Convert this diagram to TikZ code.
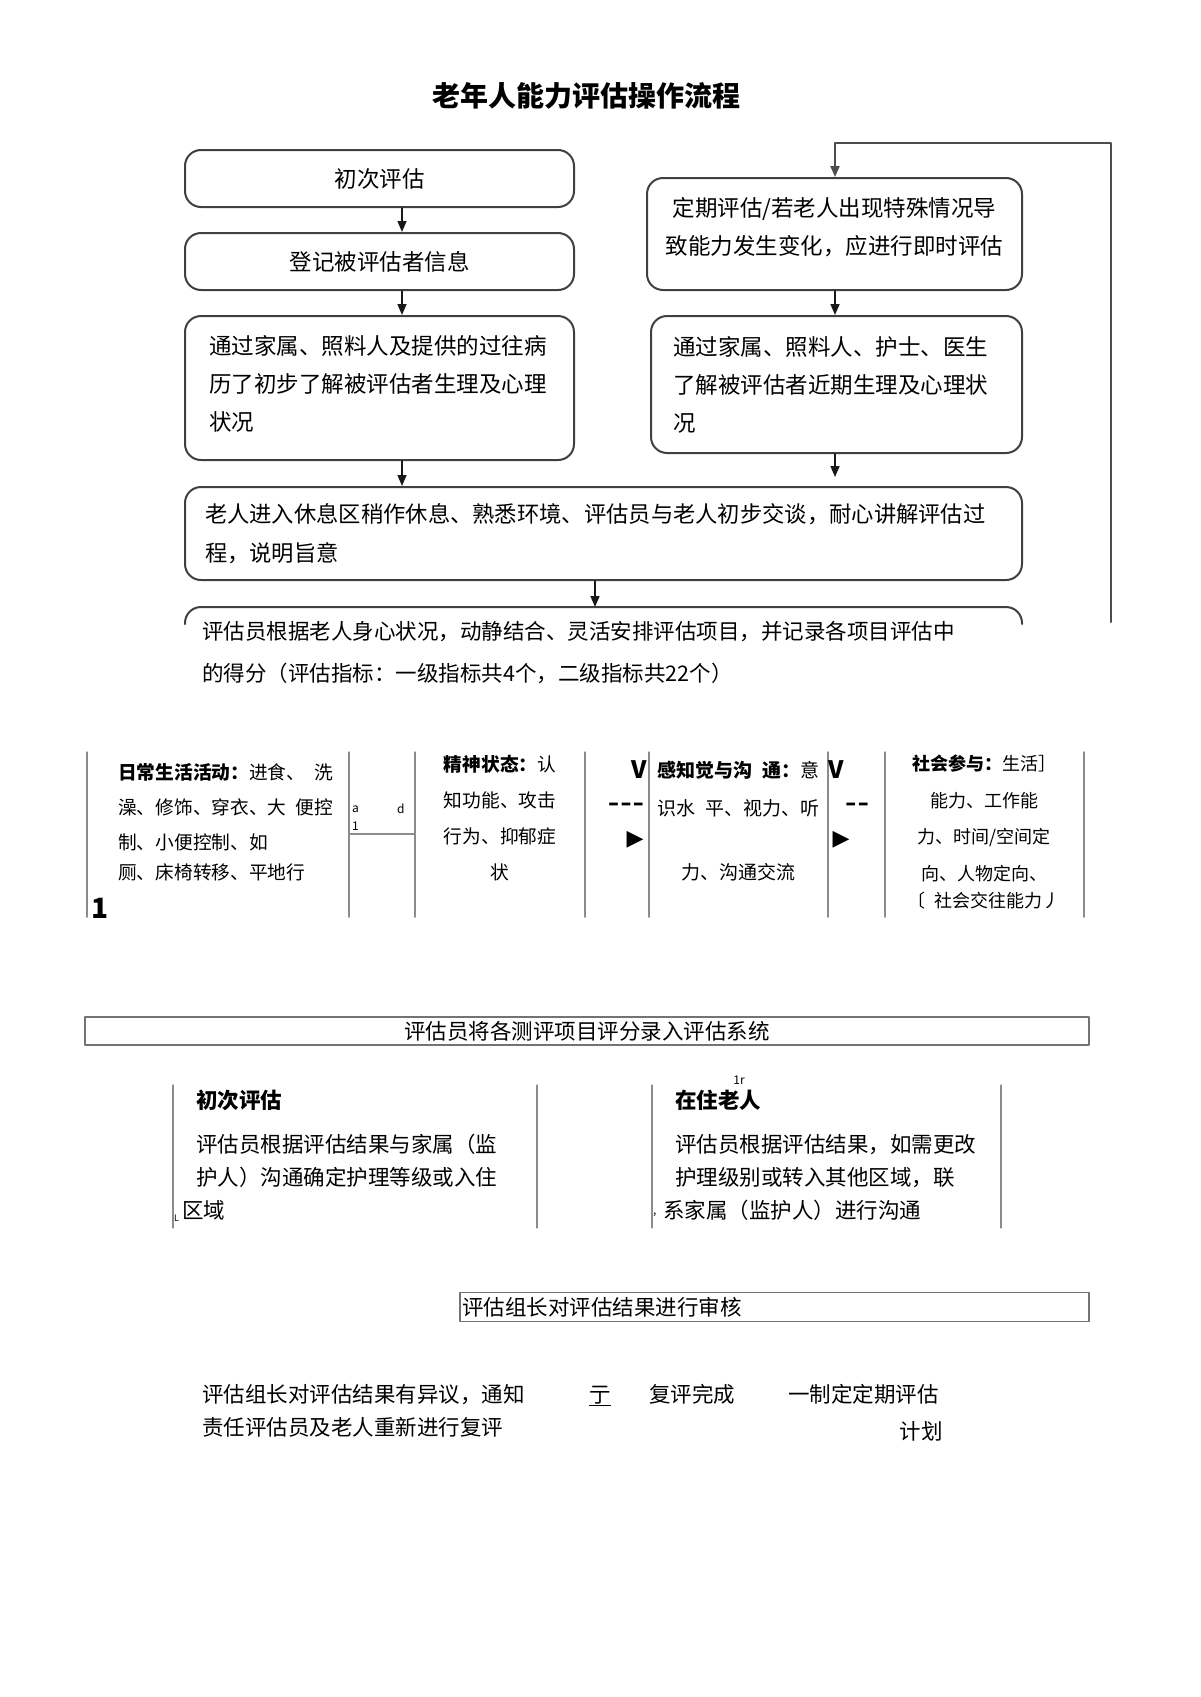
\documentclass[tikz,border=0pt]{standalone}
\usepackage{fontspec}
\setmainfont{Noto Sans CJK SC}
\newfontfamily\symfont{DejaVu Sans}
\usetikzlibrary{arrows.meta}
\newcommand{\fsz}[2]{\fontsize{#1}{#2}\selectfont}
\begin{document}
\begin{tikzpicture}[x=1pt,y=-1pt,line join=round,line cap=round,
  flowbox/.style={draw=black!75,line width=2pt,rounded corners=16pt,inner ysep=0pt,font=\fsz{22.5}{38}},
  flowarrow/.style={-{Triangle[length=11pt,width=9pt]},line width=1.5pt,draw=black!90},
  gridline/.style={draw=black!45,line width=1.5pt},
  plainbox/.style={draw=black!55,line width=1.5pt,inner sep=0pt,font=\fsz{21.5}{24}},
  cell/.style={inner sep=0pt,font=\fsz{18.7}{35}},
  body/.style={inner sep=0pt,font=\fsz{21.5}{33}},
  smallmark/.style={inner sep=0pt,font=\fsz{12}{14}}]
\path[use as bounding box,fill=white] (0,0) rectangle (1200,1697);
\coordinate (leftcol) at (402,0);
\coordinate (rightcol) at (835,0);
\coordinate (scoretop) at (595,607);
\coordinate (looptop) at (1111,143);
\coordinate (loopend) at (1111,622);

\node[font=\fsz{28}{30}\bfseries] (title) at (586,96) {老年人能力评估操作流程};

\node[flowbox,minimum width=389pt,minimum height=57pt] (first) at (379.5,178.5) {初次评估};
\node[flowbox,minimum width=389pt,minimum height=57pt] (register) at (379.5,261.5) {登记被评估者信息};
\node[flowbox,minimum width=389pt,minimum height=144pt,inner xsep=24pt,text width=341pt,align=left] (history) at (379.5,388) {\raisebox{3pt}[\height][\depth]{\begin{tabular}{@{}l@{}}通过家属、照料人及提供的过往病\\历了初步了解被评估者生理及心理\\状况\end{tabular}}};
\node[flowbox,minimum width=375pt,minimum height=112pt] (periodic) at (834.5,234) {\raisebox{6pt}[\height][\depth]{\begin{tabular}{@{}c@{}}定期评估/若老人出现特殊情况导\\致能力发生变化，应进行即时评估\end{tabular}}};
\node[flowbox,minimum width=371pt,minimum height=137pt,inner xsep=22pt,text width=327pt,align=left] (recent) at (836.5,384.5) {通过家属、照料人、护士、医生\\了解被评估者近期生理及心理状\\况};
\node[flowbox,minimum width=837pt,minimum height=93pt,inner xsep=20pt,text width=797pt,align=left,font=\fsz{22.3}{39}] (rest) at (603.5,533.5) {老人进入休息区稍作休息、熟悉环境、评估员与老人初步交谈，耐心讲解评估过\\程，说明旨意};
\node[inner sep=0pt,anchor=west,align=left,font=\fsz{21.5}{42}] (score) at (202,653) {评估员根据老人身心状况，动静结合、灵活安排评估项目，并记录各项目评估中\\的得分（评估指标：一级指标共4个，二级指标共22个）};
\draw[draw=black!75,line width=2pt,rounded corners=16pt] (185,624) -- (185,607) -- (1022,607) -- (1022,624);

\draw[flowarrow] (first.south -| leftcol) -- (register.north -| leftcol);
\draw[flowarrow] (register.south -| leftcol) -- (history.north -| leftcol);
\draw[flowarrow] (history.south -| leftcol) -- (rest.north -| leftcol);
\draw[flowarrow] (periodic.south -| rightcol) -- (recent.north -| rightcol);
\draw[flowarrow,shorten >=9pt] (recent.south -| rightcol) -- (rest.north -| rightcol);
\draw[flowarrow] (rest.south -| scoretop) -- (scoretop);
\draw[flowarrow,line width=2pt,draw=black!70] (loopend) -- (looptop) -| (periodic.north -| rightcol);

\foreach \x in {87,349,415,585,649,828,885,1084}
  \draw[gridline] (\x,752) -- (\x,917);
\draw[gridline] (349,834) -- (415,834);
\node[cell,anchor=west,align=left] (adl) at (118,822) {\textbf{日常生活活动：}进食、\hspace{.5em}洗\\澡、修饰、穿衣、大\hspace{.5em}便控\\制、小便控制、如\\[-5pt]厕、床椅转移、平地行};
\node[cell,align=center,font=\fsz{18.7}{36}] (mental) at (500,818) {\textbf{精神状态：}认\\知功能、攻击\\行为、抑郁症\\状};
\node[cell,align=center,font=\fsz{19}{38}] (sense) at (738.5,821) {\textbf{感知觉与沟\hspace{.5em}通：}意\\识水\hspace{.5em}平、视力、听\\[26pt]力、沟通交流};
\node[cell,align=center,font=\fsz{18}{36.5}] (social) at (984,832) {\textbf{社会参与：}生活］\\能力、工作能\\力、时间/空间定\\向、人物定向、\\[-9.5pt]〔\hspace{.5em}社会交往能力丿};
\node[smallmark,anchor=west] (marka) at (352,809) {a};
\node[smallmark,anchor=west] (markd) at (397,809) {d};
\node[smallmark,anchor=west] (markone) at (352,826) {1};
\node[font=\fsz{28}{30}\bfseries] (bigone) at (100,908) {1};
\node[font=\fsz{24}{26}\bfseries] (vleft) at (639,770) {V};
\node[font=\fsz{24}{26}\bfseries] (vright) at (836,770) {V};
\node[font=\symfont\fsz{22}{24}\bfseries] (dashleft) at (626,807) {–\hspace{1.5pt}–\hspace{1.5pt}–};
\node[font=\symfont\fsz{22}{24}\bfseries] (dashright) at (857,807) {–\hspace{1.5pt}–};
\node[font=\symfont\fsz{22}{24}] (tipleft) at (635,840) {▶};
\node[font=\symfont\fsz{22}{24}] (tipright) at (841,840) {▶};

\node[plainbox,minimum width=1004pt,minimum height=28pt] (entry) at (587,1031) {评估员将各测评项目评分录入评估系统};

\foreach \x in {173,537,652,1001}
  \draw[gridline,line width=1.2pt] (\x,1085) -- (\x,1228);
\node[body,anchor=west,font={\fsz{21.5}{24}\bfseries}] (firsthead) at (196,1100) {初次评估};
\node[body,anchor=west,align=left] (firsttext) at (196,1161) {评估员根据评估结果与家属（监\\护人）沟通确定护理等级或入住};
\node[body,anchor=west] (firsttail) at (182,1210) {区域};
\node[smallmark,anchor=west,font=\fsz{9}{10}] (firstmark) at (174,1218) {L};
\node[smallmark] (residtop) at (739,1080) {1r};
\node[body,anchor=west,font={\fsz{21.5}{24}\bfseries}] (residhead) at (675,1100) {在住老人};
\node[body,anchor=west,align=left] (residtext) at (675,1161) {评估员根据评估结果，如需更改\\护理级别或转入其他区域，联};
\node[body,anchor=west] (residtail) at (663,1210) {系家属（监护人）进行沟通};
\node[smallmark,anchor=west] (residmark) at (653,1215) {,};

\node[plainbox,minimum width=629pt,minimum height=29pt,inner xsep=2pt,text width=625pt,align=left] (review) at (774.5,1307) {评估组长对评估结果进行审核};
\node[body,anchor=west,align=left] (objection) at (202,1410.5) {评估组长对评估结果有异议，通知\\责任评估员及老人重新进行复评};
\node[body,anchor=base] (stepmark) at (600,1402) {\underline{亍}};
\node[body] (recheck) at (692,1394) {复评完成};
\node[body,anchor=west] (plan) at (788,1394) {一制定定期评估};
\node[body] (planend) at (921,1431) {计划};
\end{tikzpicture}
\end{document}
